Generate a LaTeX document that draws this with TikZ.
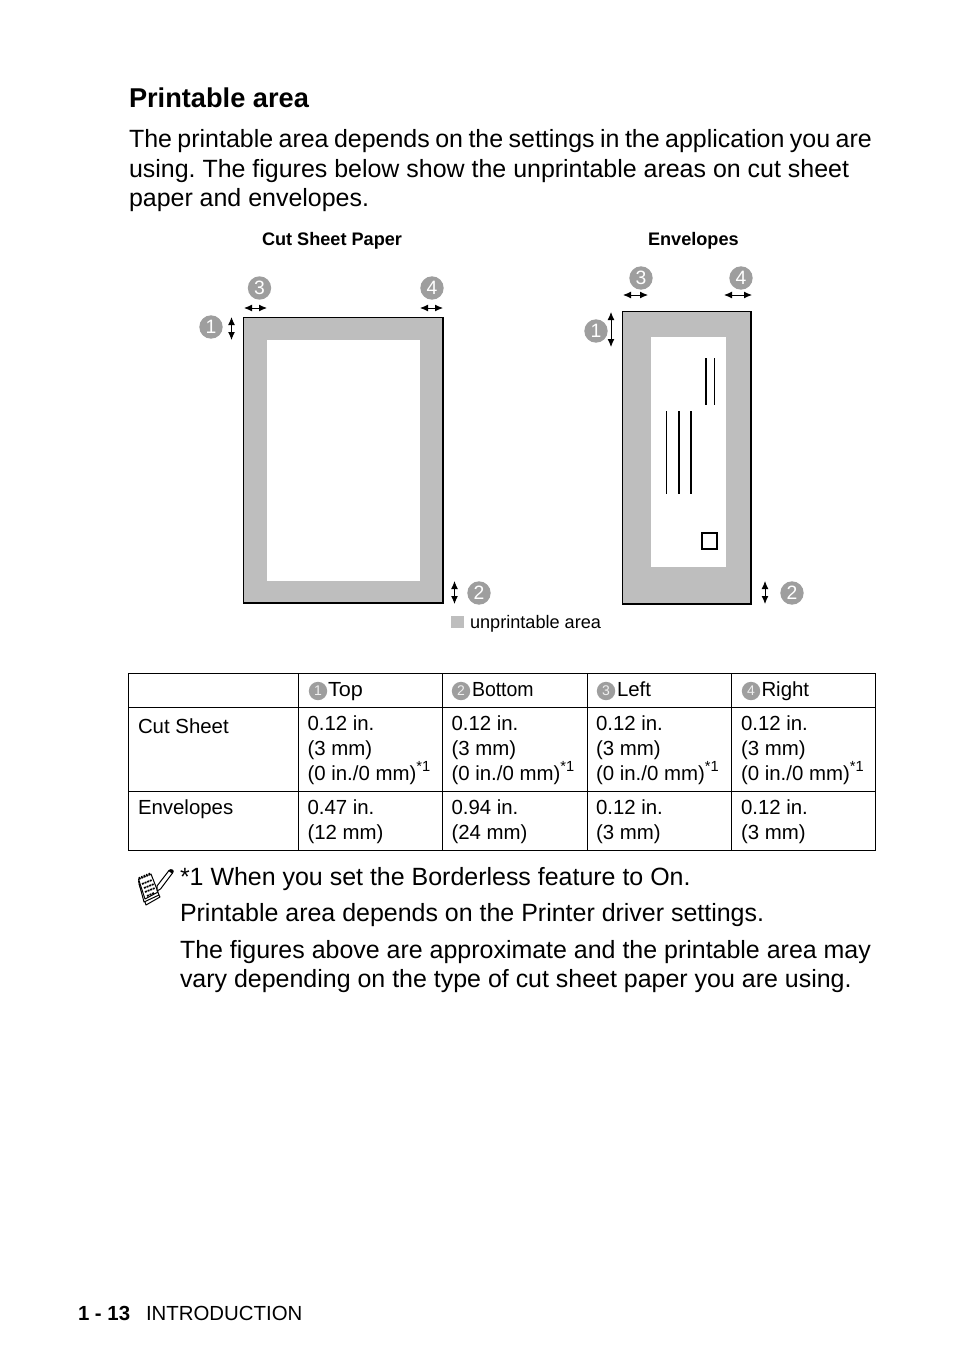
\documentclass[tikz,border=0pt]{standalone}
\usepackage{fontspec}
\setmainfont{Liberation Sans}
\usetikzlibrary{arrows.meta}
\definecolor{unprint}{HTML}{BEBEBE}
\definecolor{badge}{HTML}{9E9E9E}
\newcommand{\fsz}[1]{\fontsize{#1}{#1}\selectfont}
\frenchspacing
\tikzset{
 x=0.75pt,y=-0.75pt,
 txt/.style={anchor=base west,inner sep=0pt,outer sep=0pt,text=black},
 bodytxt/.style={txt,font=\fsz{18.72pt}\frenchspacing},
 tbl/.style={txt,font=\fsz{15.3pt}\frenchspacing},
 captxt/.style={txt,font=\bfseries\fsz{13.6pt}},
 bigbadge/.style={circle,fill=badge,inner sep=0pt,minimum size=17.5pt,text=white,font=\fsz{14.5pt}},
 smallbadge/.style={circle,fill=badge,inner sep=0pt,minimum size=13.8pt,text=white!85!badge,font=\fsz{10.5pt}},
 dimline/.style={line width=0.7pt,{Latex[length=6pt,width=5.2pt]}-{Latex[length=6pt,width=5.2pt]}},
 tblrule/.style={line width=0.8pt,black},
 sheet/.style={draw=black,fill=unprint,line width=1.2pt},
 thinink/.style={black,line width=0.75pt},
 ink/.style={black,line width=1.5pt},
}
\begin{document}
\begin{tikzpicture}
\useasboundingbox[fill=white] (0,0) rectangle (954,1352);
% heading and paragraph
\node[txt,font=\bfseries\fsz{20.4pt}] (head) at (129,107.5) {Printable area};
\node[bodytxt] (p1) at (129,148) {\spaceskip=4.1pt\relax The printable area depends on the settings in the application you are};
\node[bodytxt] (p2) at (129,177) {using. The figures below show the unprintable areas on cut sheet};
\node[bodytxt] (p3) at (129,206) {paper and envelopes.};
% captions
\node[captxt] (capa) at (262,245) {Cut Sheet Paper};
\node[captxt] (capb) at (648,245) {Envelopes};
% cut sheet figure
\draw[sheet] (243.5,317.5) rectangle (443,603);
\fill[white] (267,340) rectangle (420,581);
\node[bigbadge] (a3) at (259.5,288) {3};
\node[bigbadge] (a4) at (432,288) {4};
\node[bigbadge] (a1) at (211,327) {1};
\node[bigbadge] (a2) at (479,593) {2};
\draw[dimline] (244,308) -- (267,308);
\draw[dimline] (420,308) -- (443,308);
\draw[dimline] (231.5,317) -- (231.5,340);
\draw[dimline] (454.5,581) -- (454.5,604);
% envelope figure
\fill[unprint] (622.5,311.5) rectangle (751,604);
\draw[thinink] (622.5,604) -- (622.5,311.5) -- (751,311.5);
\draw[black,line width=1.3pt,line cap=rect] (622.5,604) -- (751,604) -- (751,311.5);
\fill[white] (651,337) rectangle (726,567);
\node[bigbadge] (b3) at (641,278) {3};
\node[bigbadge] (b4) at (741,278) {4};
\node[bigbadge] (b1) at (596,331) {1};
\node[bigbadge] (b2) at (792,593) {2};
\draw[dimline] (623,295) -- (648,295);
\draw[dimline] (724,295) -- (752,295);
\draw[dimline] (611,312) -- (611,347);
\draw[dimline] (765,581) -- (765,604);
\draw[ink] (706,358) -- (706,405);
\draw[thinink] (714.5,358) -- (714.5,405);
\draw[thinink] (666.5,411) -- (666.5,494);
\draw[ink] (679,411) -- (679,494);
\draw[ink] (690.5,411) -- (690.5,494);
\draw[black,fill=white,line width=1.2pt] (702,533) rectangle (717,549);
% legend
\fill[unprint] (451,616) rectangle (464,628);
\node[txt,font=\fsz{13.6pt}] (legend) at (470,628) {unprintable area};
% table
\foreach \y in {673.5,707.5,791.5,850.5} \draw[tblrule] (128,\y) -- (876,\y);
\foreach \x in {128.5,298.5,442.5,587.5,731.5,875.5} \draw[tblrule] (\x,673) -- (\x,851);
\node[smallbadge] (t1) at (318,691) {1};
\node[tbl] (h1) at (328,696) {\scalebox{1.06}[1]{Top}};
\node[smallbadge] (t2) at (461,691) {2};
\node[tbl] (h2) at (472,696) {\scalebox{0.955}[1]{Bottom}};
\node[smallbadge] (t3) at (606,691) {3};
\node[tbl] (h3) at (617,696) {Left};
\node[smallbadge] (t4) at (751,691) {4};
\node[tbl] (h4) at (761.5,696) {Right};
\node[tbl] (r1) at (138,733) {Cut Sheet};
\node[tbl] (r2) at (138,814) {Envelopes};
\foreach \x/\n in {307.5/a,451.5/b,596/c,741/d}{
  \node[tbl] (c\n1) at (\x,730) {0.12 in.};
  \node[tbl] (c\n2) at (\x,755) {(3 mm)};
  \node[tbl] (c\n3) at (\x,780) {(0 in./0 mm)\raisebox{0.42em}{\fsz{11pt}*1}};
}
\node[tbl] (e1) at (307.5,814) {0.47 in.};
\node[tbl] (e2) at (307.5,839) {(12 mm)};
\node[tbl] (e3) at (451.5,814) {0.94 in.};
\node[tbl] (e4) at (451.5,839) {(24 mm)};
\node[tbl] (e5) at (596,814) {0.12 in.};
\node[tbl] (e6) at (596,839) {(3 mm)};
\node[tbl] (e7) at (741,814) {0.12 in.};
\node[tbl] (e8) at (741,839) {(3 mm)};
% memo icon
\begin{scope}[line width=0.75pt,black,line join=round]
\draw[fill=white] (139,884) -- (146,905) -- (160,897) -- (155,888) -- cycle;
\draw[fill=white] (138.5,881) -- (144,902) -- (159,895) -- (152,878) -- cycle;
\draw[fill=white] (138.5,879) -- (151,874) -- (158,892) -- (145,899) -- cycle;
\draw[line width=2pt,dash pattern=on 1pt off 1pt] (139,878.5) -- (151,873.5);
\draw[line width=1.3pt,dash pattern=on 1.5pt off 0.6pt] (142,884) -- (152,880);
\draw[line width=1.3pt,dash pattern=on 1.5pt off 0.6pt] (144,888) -- (154,884);
\draw[line width=1.3pt,dash pattern=on 1.5pt off 0.6pt] (145,892) -- (155,888);
\draw[line width=1.3pt,dash pattern=on 1.5pt off 0.6pt] (147,896) -- (154,893);
\draw[fill=white] (157,886) -- (169,870.5) -- (172.5,873) -- (160.5,889) -- (157,891) -- cycle;
\draw[fill=black] (169,870.5) .. controls (171,868.5) and (175,870.5) .. (172.5,873) -- cycle;
\end{scope}
% notes
\node[bodytxt] (n1) at (180,885.5) {*1 When you set the Borderless feature to On.};
\node[bodytxt] (n2) at (180,921.5) {Printable area depends on the Printer driver settings.};
\node[bodytxt] (n3) at (180,958.5) {The figures above are approximate and the printable area may};
\node[bodytxt] (n4) at (180,987.5) {vary depending on the type of cut sheet paper you are using.};
% footer
\node[txt,font=\bfseries\fsz{15.3pt}] (f1) at (78,1320) {1 - 13};
\node[tbl] (f2) at (146,1320) {INTRODUCTION};
\end{tikzpicture}
\end{document}
